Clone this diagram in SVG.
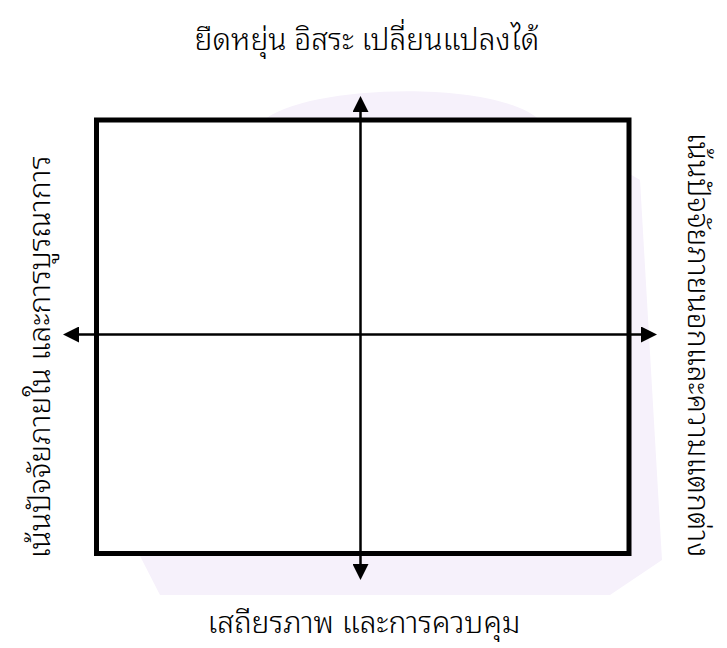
<svg xmlns="http://www.w3.org/2000/svg" width="727" height="648" viewBox="0 0 727 648">
  <style>
    .lbl { font-family: "Noto Sans Thai Looped", "Liberation Sans", sans-serif; font-size: 30px; font-weight: 300; fill: #000; text-anchor: middle; }
    .axis { stroke: #000; stroke-width: 2.5; fill: none; marker-start: url(#arr); marker-end: url(#arr); }
    .frame { fill: #fff; stroke: #000; stroke-width: 5; }
  </style>
  <defs>
    <marker id="arr" markerUnits="userSpaceOnUse" markerWidth="16" markerHeight="16" viewBox="0 0 16 16" refX="0" refY="8" orient="auto-start-reverse">
      <path d="M0,0 L16,8 L0,16 Z" fill="#000"/>
    </marker>
  </defs>
  <rect width="727" height="648" fill="#fff"/>
  <g id="watermark">
    <path d="M262,122 C300,84 500,78 542,122 L640,180 L662,560 L610,595 L160,595 L140,556 Z" fill="#f6f1fb"/>
  </g>
  <g id="frame">
    <rect class="frame" x="96.5" y="120" width="532.5" height="433.5"/>
  </g>
  <g id="connectors">
    <line class="axis" x1="360.5" y1="564" x2="360.5" y2="112"/>
    <line class="axis" x1="79" y1="334.5" x2="641" y2="334.5"/>
  </g>
  <g id="label-top">
    <text class="lbl" x="367" y="50">ยืดหยุ่น อิสระ เปลี่ยนแปลงได้</text>
  </g>
  <g id="label-bottom">
    <text class="lbl" x="364" y="633">เสถียรภาพ และการควบคุม</text>
  </g>
  <g id="label-left">
    <text class="lbl" transform="translate(50,357) rotate(-90)">เน้นปัจจัยภายใน และการบูรณาการ</text>
  </g>
  <g id="label-right">
    <text class="lbl" transform="translate(688,345) rotate(90)">เน้นปัจจัยภายนอกและความแตกต่าง</text>
  </g>
</svg>
